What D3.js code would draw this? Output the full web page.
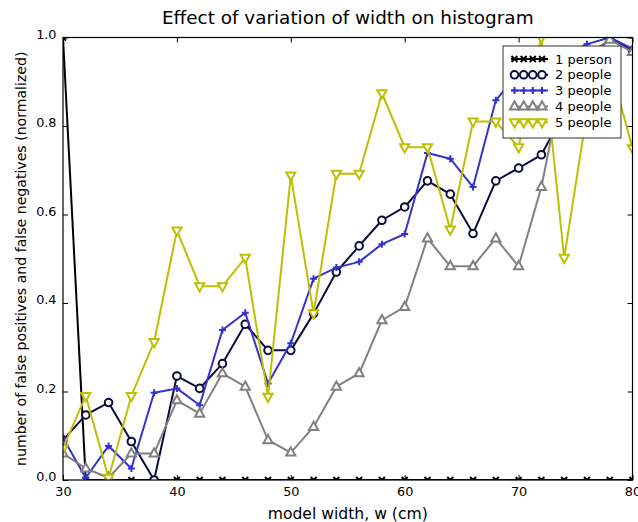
<!DOCTYPE html>
<html>
<head>
<meta charset="utf-8">
<script src="https://cdn.jsdelivr.net/npm/d3@7"></script>
<style>
  body { margin: 0; background: #fff; }
  svg { display: block; font-family: "DejaVu Sans", sans-serif; }
</style>
</head>
<body>
<div id="chart"></div>
<script>
// model widths (cm)
var widths = [30,32,34,36,38,40,42,44,46,48,50,52,54,56,58,60,62,64,66,68,70,72,74,76,78,80];

var person1 = [1,0,0,0,0,0,0,0,0,0,0,0,0,0,0,0,0,0,0,0,0,0,0,0,0,0];
var people2 = [0.09,0.147,0.175,0.087,0.0,0.235,0.207,0.263,0.352,0.293,0.293,0.376,0.47,0.529,0.587,0.617,0.676,0.646,0.557,0.676,0.705,0.735,0.83,0.94,1.0,0.97];
var people3 = [0.095,0.005,0.077,0.026,0.197,0.207,0.169,0.339,0.378,0.218,0.309,0.455,0.48,0.493,0.533,0.556,0.739,0.726,0.662,0.858,0.92,0.94,0.96,0.985,1.0,0.975];
var people4 = [0.06,0.026,0.005,0.06,0.06,0.18,0.15,0.241,0.211,0.09,0.062,0.12,0.211,0.241,0.361,0.391,0.546,0.483,0.483,0.546,0.483,0.662,0.92,0.96,0.995,0.967];
var people5 = [0.072,0.19,0.005,0.19,0.312,0.564,0.438,0.438,0.502,0.188,0.688,0.377,0.692,0.692,0.874,0.752,0.752,0.566,0.81,0.81,0.752,1.0,0.502,0.83,0.94,0.75];

var labels = ["1 person","2 people","3 people","4 people","5 people"];
var xTicks = [30,40,50,60,70,80];
var yTicks = [0.0,0.2,0.4,0.6,0.8,1.0];

var series = [
    {name: labels[0], values: person1, color: "#000000", marker: "x"},
    {name: labels[1], values: people2, color: "#0c0c3c", marker: "circle"},
    {name: labels[2], values: people3, color: "#3333cc", marker: "plus"},
    {name: labels[3], values: people4, color: "#808080", marker: "tri-up"},
    {name: labels[4], values: people5, color: "#bfbf00", marker: "tri-down"}
];

var outerWidth = 638;
var outerHeight = 522;
var plotLeft = 63;
var plotRight = 632.5;
var plotTop = 37.5;
var plotBottom = 480;

var x = d3.scaleLinear().domain([30, 80]).range([plotLeft, plotRight]);
var y = d3.scaleLinear().domain([0, 1]).range([plotBottom, plotTop]);

var svg = d3.select("#chart").append("svg")
    .attr("width", outerWidth)
    .attr("height", outerHeight);

svg.append("defs").append("clipPath")
    .attr("id", "plotclip")
    .append("rect")
    .attr("x", plotLeft)
    .attr("y", plotTop)
    .attr("width", plotRight - plotLeft)
    .attr("height", plotBottom - plotTop);

// draws one marker shape centered on 0,0
function drawMarker(g, kind, color) {
    if (kind == "circle") {
        g.append("circle").attr("r", 3.8)
            .attr("fill", "#fff").attr("stroke", color).attr("stroke-width", 2);
    } else if (kind == "plus") {
        g.append("path").attr("d", "M-3.5,0H3.5M0,-3.5V3.5")
            .attr("stroke", color).attr("stroke-width", 2);
    } else if (kind == "x") {
        g.append("path").attr("d", "M-3,-3L3,3M-3,3L3,-3")
            .attr("stroke", color).attr("stroke-width", 2);
    } else if (kind == "tri-up") {
        g.append("path").attr("d", "M0,-5.2L4.6,3L-4.6,3Z")
            .attr("fill", "#fff").attr("stroke", color).attr("stroke-width", 2)
            .attr("stroke-linejoin", "miter");
    } else if (kind == "tri-down") {
        g.append("path").attr("d", "M0,5.2L4.6,-3L-4.6,-3Z")
            .attr("fill", "#fff").attr("stroke", color).attr("stroke-width", 2)
            .attr("stroke-linejoin", "miter");
    }
}

var line = d3.line()
    .x(function(d){ return x(d[0]); })
    .y(function(d){ return y(d[1]); });

var plot = svg.append("g").attr("clip-path", "url(#plotclip)");

series.forEach(function(s){
    var pts = widths.map(function(w, i){ return [w, s.values[i]]; });
    var g = plot.append("g");
    g.append("path")
        .datum(pts)
        .attr("d", line)
        .attr("fill", "none")
        .attr("stroke", s.color)
        .attr("stroke-width", 2)
        .attr("stroke-linejoin", "round");
    g.selectAll("g.mk")
        .data(pts)
        .enter()
        .append("g")
        .attr("class", "mk")
        .attr("transform", function(d){ return "translate(" + x(d[0]) + "," + y(d[1]) + ")"; })
        .each(function(){ drawMarker(d3.select(this), s.marker, s.color); });
});

// axes, ticks pointing inward on all four sides
var tickLen = 5;
var axisFont = 12.8;

var xAxisBottom = svg.append("g")
    .attr("transform", "translate(0," + plotBottom + ")")
    .call(d3.axisBottom(x).tickValues(xTicks).tickSize(-tickLen).tickPadding(6.5).tickFormat(d3.format("d")));
var xAxisTop = svg.append("g")
    .attr("transform", "translate(0," + plotTop + ")")
    .call(d3.axisTop(x).tickValues(xTicks).tickSize(-tickLen).tickFormat(""));
var yAxisLeft = svg.append("g")
    .attr("transform", "translate(" + plotLeft + ",0)")
    .call(d3.axisLeft(y).tickValues(yTicks).tickSize(-tickLen).tickPadding(6.5).tickFormat(d3.format(".1f")));
var yAxisRight = svg.append("g")
    .attr("transform", "translate(" + plotRight + ",0)")
    .call(d3.axisRight(y).tickValues(yTicks).tickSize(-tickLen).tickFormat(""));

[xAxisBottom, xAxisTop, yAxisLeft, yAxisRight].forEach(function(a){
    a.select(".domain").remove();
    a.selectAll("line").attr("stroke", "#000").attr("stroke-width", 1);
    a.selectAll("text")
        .attr("fill", "#000")
        .style("font-family", "DejaVu Sans")
        .style("font-size", axisFont + "px");
});
yAxisLeft.selectAll("text").attr("dy", "0.05em");

svg.append("rect")
    .attr("x", plotLeft)
    .attr("y", plotTop)
    .attr("width", plotRight - plotLeft)
    .attr("height", plotBottom - plotTop)
    .attr("fill", "none")
    .attr("stroke", "#000")
    .attr("stroke-width", 1.2);

// title and axis labels
svg.append("text")
    .attr("x", (plotLeft + plotRight) / 2)
    .attr("y", 23.5)
    .attr("text-anchor", "middle")
    .style("font-size", "18.4px")
    .text("Effect of variation of width on histogram");

svg.append("text")
    .attr("x", (plotLeft + plotRight) / 2)
    .attr("y", 518.5)
    .attr("text-anchor", "middle")
    .style("font-size", "15.6px")
    .text("model width, w (cm)");

svg.append("text")
    .attr("transform", "translate(25.5," + (plotTop + plotBottom) / 2 + ") rotate(-90)")
    .attr("text-anchor", "middle")
    .style("font-size", "14.1px")
    .text("number of false positives and false negatives (normalized)");

// legend
var legendX = 503;
var legendY = 46;
var legendW = 118;
var legendH = 92;
var rowH = 15.8;

var legend = svg.append("g");
legend.append("rect")
    .attr("x", legendX)
    .attr("y", legendY)
    .attr("width", legendW)
    .attr("height", legendH)
    .attr("fill", "#fff")
    .attr("stroke", "#333")
    .attr("stroke-width", 1);

var legendRows = legend.selectAll("g.row")
    .data(series)
    .enter()
    .append("g")
    .attr("class", "row")
    .attr("transform", function(d, i){ return "translate(" + legendX + "," + (legendY + 13 + i * rowH) + ")"; });

legendRows.each(function(s){
    var row = d3.select(this);
    row.append("line")
        .attr("x1", 8).attr("x2", 45)
        .attr("stroke", s.color).attr("stroke-width", 2);
    [11.5, 20.7, 29.8, 39].forEach(function(px){
        drawMarker(row.append("g").attr("transform", "translate(" + px + ",0)"), s.marker, s.color);
    });
    row.append("text")
        .attr("x", 52)
        .attr("dy", "0.36em")
        .style("font-size", "13px")
        .text(s.name);
});
</script>
</body>
</html>
